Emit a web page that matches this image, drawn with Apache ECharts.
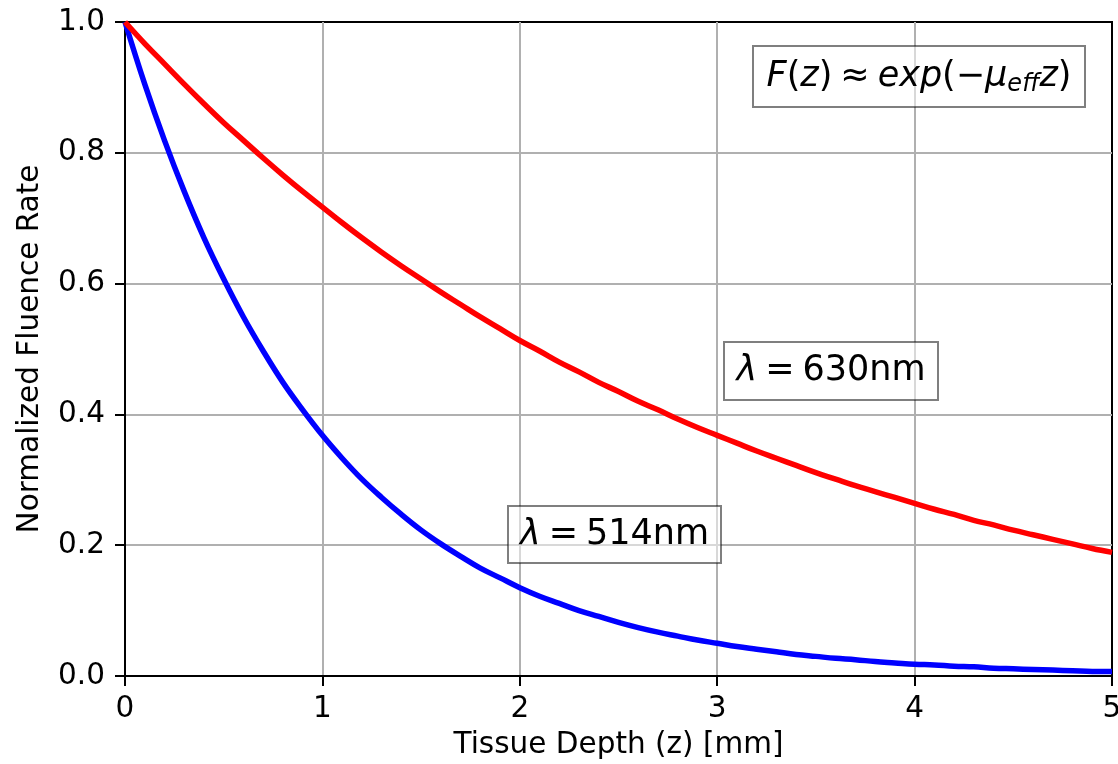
<!DOCTYPE html>
<html>
<head>
<meta charset="utf-8">
<script src="https://cdn.jsdelivr.net/npm/echarts@6/dist/echarts.min.js"></script>
<style>
  html, body { margin: 0; padding: 0; background: #fff; }
  #chart { width: 1118px; height: 764px; }
</style>
</head>
<body>
<div id="chart"></div>
<script>
// 組織深さごとの正規化フルエンス率（読み取り値）
const depth = [
  0.0, 0.1, 0.2, 0.3, 0.4, 0.5, 0.6, 0.7, 0.8, 0.9,
  1.0, 1.1, 1.2, 1.3, 1.4, 1.5, 1.6, 1.7, 1.8, 1.9,
  2.0, 2.1, 2.2, 2.3, 2.4, 2.5, 2.6, 2.7, 2.8, 2.9,
  3.0, 3.1, 3.2, 3.3, 3.4, 3.5, 3.6, 3.7, 3.8, 3.9,
  4.0, 4.1, 4.2, 4.3, 4.4, 4.5, 4.6, 4.7, 4.8, 4.9, 5.0,
];
const fluence514 = [
  1.000, 0.905, 0.819, 0.741, 0.670, 0.607, 0.549, 0.497, 0.449, 0.407,
  0.368, 0.333, 0.301, 0.273, 0.247, 0.223, 0.202, 0.183, 0.165, 0.150,
  0.135, 0.122, 0.111, 0.100, 0.091, 0.082, 0.074, 0.067, 0.061, 0.055,
  0.050, 0.045, 0.041, 0.037, 0.033, 0.030, 0.027, 0.025, 0.022, 0.020,
  0.018, 0.017, 0.015, 0.014, 0.012, 0.011, 0.010, 0.009, 0.008, 0.007, 0.007,
];
const fluence630 = [
  1.000, 0.967, 0.936, 0.905, 0.875, 0.846, 0.819, 0.792, 0.766, 0.741,
  0.717, 0.693, 0.670, 0.648, 0.627, 0.607, 0.587, 0.568, 0.549, 0.531,
  0.513, 0.497, 0.480, 0.465, 0.449, 0.435, 0.420, 0.407, 0.393, 0.380,
  0.368, 0.356, 0.344, 0.333, 0.322, 0.311, 0.301, 0.291, 0.282, 0.273,
  0.264, 0.255, 0.247, 0.238, 0.231, 0.223, 0.216, 0.209, 0.202, 0.195, 0.189,
];

const FONT = 'DejaVu Sans';
const FS = 29.5;
const GRIDLINE = { color: '#b0b0b0', width: 2 };
const SPINE = { color: '#000', width: 2 };

const chart = echarts.init(document.getElementById('chart'), null, { renderer: 'canvas' });

const pairs = (ys) => depth.map((x, i) => [x, ys[i]]);

// 注記ボックス（半透明の白地・半透明の黒枠）＋その上に黒文字
const RICH = {
  i: { fontFamily: FONT, fontSize: 35, fontStyle: 'italic', lineHeight: 44, fill: '#000' },
  u: { fontFamily: FONT, fontSize: 35, lineHeight: 44, fill: '#000' },
  q: { fontFamily: FONT, fontSize: 35, lineHeight: 44, fill: '#000', padding: [0, 8, 0, 8] },
  s: { fontFamily: FONT, fontSize: 24, fontStyle: 'italic', lineHeight: 44, fill: '#000', padding: [16, 0, 0, 0] },
};
const box = (left, top, w, h, text) => [
  {
    type: 'rect',
    z: 100,
    shape: { x: left, y: top, width: w, height: h },
    style: { fill: 'rgba(255,255,255,0.5)', stroke: 'rgba(0,0,0,0.5)', lineWidth: 2 },
  },
  {
    type: 'text',
    z: 101,
    style: {
      x: left + w / 2, y: top + h / 2,
      text, rich: RICH, fill: '#000',
      align: 'center', verticalAlign: 'middle',
    },
  },
];

chart.setOption({
  backgroundColor: '#fff',
  animation: false,
  textStyle: { fontFamily: FONT },
  grid: {
    left: 125, right: 6, top: 22, bottom: 88,
    outerBoundsMode: 'none',
    show: true, borderColor: '#000', borderWidth: 2, backgroundColor: 'transparent',
  },
  xAxis: {
    type: 'value',
    min: 0, max: 5, interval: 1,
    name: 'Tissue Depth (z) [mm]',
    nameLocation: 'middle',
    nameGap: 54,
    nameTextStyle: { color: '#000', fontSize: FS, fontFamily: FONT },
    axisLine: { show: true, onZero: false, lineStyle: SPINE },
    axisTick: { show: true, length: 10, lineStyle: SPINE },
    axisLabel: { color: '#000', fontSize: FS, fontFamily: FONT, margin: 18 },
    splitLine: { show: true, showMinLine: false, showMaxLine: false, lineStyle: GRIDLINE },
  },
  yAxis: {
    type: 'value',
    min: 0, max: 1, interval: 0.2,
    name: 'Normalized Fluence Rate',
    nameLocation: 'middle',
    nameGap: 80,
    nameTextStyle: { color: '#000', fontSize: FS, fontFamily: FONT },
    axisLine: { show: true, onZero: false, lineStyle: SPINE },
    axisTick: { show: true, length: 10, lineStyle: SPINE },
    axisLabel: {
      color: '#000', fontSize: FS, fontFamily: FONT, margin: 20,
      formatter: (v) => v.toFixed(1),
    },
    splitLine: { show: true, showMinLine: false, showMaxLine: false, lineStyle: GRIDLINE },
  },
  series: [
    {
      name: 'λ = 514nm', type: 'line', data: pairs(fluence514),
      showSymbol: false, clip: true, smooth: 0.4,
      lineStyle: { color: '#0000ff', width: 5.5 },
    },
    {
      name: 'λ = 630nm', type: 'line', data: pairs(fluence630),
      showSymbol: false, clip: true, smooth: 0.4,
      lineStyle: { color: '#ff0000', width: 5.5 },
    },
  ],
  graphic: [
    ...box(753, 46, 332, 61, '{i|F}{u|(}{i|z}{u|)}{q|≈}{i|exp}{u|(−}{i|μ}{s|eff}{i|z}{u|)}'),
    ...box(724, 342, 214, 58, '{i|λ}{q|=}{u|630nm}'),
    ...box(508, 506, 213, 57, '{i|λ}{q|=}{u|514nm}'),
  ],
});

window.addEventListener('resize', () => chart.resize());
</script>
</body>
</html>
